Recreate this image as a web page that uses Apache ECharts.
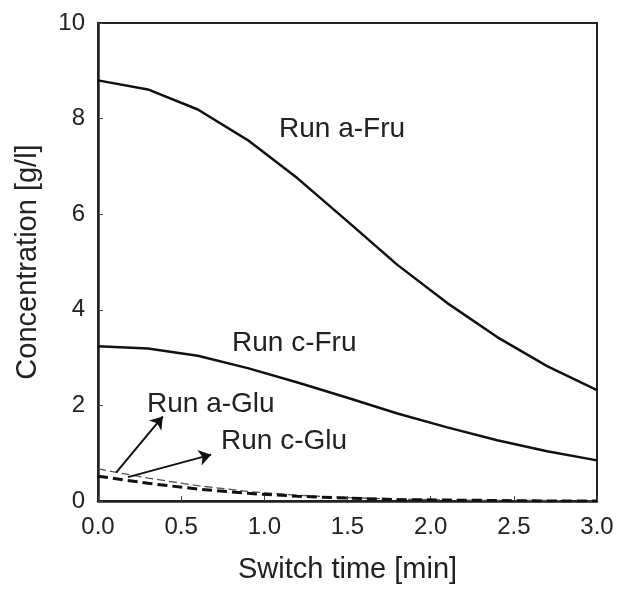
<!DOCTYPE html>
<html>
<head>
<meta charset="utf-8">
<script src="https://cdn.jsdelivr.net/npm/echarts@6/dist/echarts.min.js"></script>
<style>
  html, body { margin: 0; padding: 0; background: #fff; }
  #chart { width: 617px; height: 589px; }
</style>
</head>
<body>
<div id="chart"></div>
<script>
// switch time [min]
let times = [0, 0.3, 0.6, 0.9, 1.2, 1.5, 1.8, 2.1, 2.4, 2.7, 3.0]
// concentrations [g/l]
let runAFru = [8.80, 8.61, 8.19, 7.55, 6.75, 5.85, 4.94, 4.14, 3.43, 2.82, 2.32]
let runCFru = [3.24, 3.19, 3.04, 2.78, 2.48, 2.16, 1.83, 1.54, 1.27, 1.04, 0.85]
let runAGlu = [0.67, 0.48, 0.32, 0.20, 0.12, 0.07, 0.04, 0.02, 0.01, 0.01, 0.00]
let runCGlu = [0.52, 0.37, 0.25, 0.16, 0.10, 0.06, 0.03, 0.02, 0.01, 0.00, 0.00]

function pairs(ys) {
  let out = []
  for (let i = 0; i < times.length; i++) {
    out.push([times[i], ys[i]])
  }
  return out
}

let myChart = echarts.init(document.getElementById("chart"))
let font = "Liberation Sans, Arial, sans-serif"

let option = {
  animation: false,
  textStyle: { fontFamily: font, color: "#222" },
  grid: {
    left: 98,
    right: 20,
    top: 23,
    bottom: 85,
    show: true,
    borderColor: "#222",
    borderWidth: 2
  },
  xAxis: {
    type: "value",
    min: 0,
    max: 3,
    interval: 0.5,
    name: "Switch time [min]",
    nameLocation: "middle",
    nameGap: 54,
    nameTextStyle: { fontSize: 29, color: "#222", fontFamily: font },
    axisLine: { lineStyle: { color: "#222", width: 2.5 } },
    axisTick: { inside: true, length: 5, lineStyle: { color: "#444" } },
    axisLabel: {
      fontSize: 24,
      color: "#222",
      margin: 14,
      formatter: function (v) { return v.toFixed(1) }
    },
    splitLine: { show: false }
  },
  yAxis: {
    type: "value",
    min: 0,
    max: 10,
    interval: 2,
    name: "Concentration [g/l]",
    nameLocation: "middle",
    nameGap: 56,
    nameTextStyle: { fontSize: 29, color: "#222", fontFamily: font },
    axisLine: { lineStyle: { color: "#222", width: 2.5 } },
    axisTick: { inside: true, length: 5, lineStyle: { color: "#444" } },
    axisLabel: { fontSize: 24, color: "#222", margin: 13 },
    splitLine: { show: false }
  },
  series: [
    {
      name: "Run a-Fru",
      type: "line",
      data: pairs(runAFru),
      showSymbol: false,
      lineStyle: { color: "#111", width: 2.5 }
    },
    {
      name: "Run c-Fru",
      type: "line",
      data: pairs(runCFru),
      showSymbol: false,
      lineStyle: { color: "#111", width: 2.5 }
    },
    {
      name: "Run a-Glu",
      type: "line",
      data: pairs(runAGlu),
      showSymbol: false,
      lineStyle: { color: "#555", width: 1.3, type: [8, 4] },
      markLine: {
        silent: true,
        symbol: ["none", "arrow"],
        symbolSize: 12,
        label: { show: false },
        lineStyle: { color: "#111", width: 2, type: "solid" },
        data: [
          [{ coord: [0.11, 0.60] }, { coord: [0.39, 1.77] }],
          [{ coord: [0.18, 0.50] }, { coord: [0.68, 0.97] }]
        ]
      }
    },
    {
      name: "Run c-Glu",
      type: "line",
      data: pairs(runCGlu),
      showSymbol: false,
      lineStyle: { color: "#111", width: 3, type: [10, 5] }
    }
  ],
  graphic: [
    { type: "text", left: 279, top: 115, style: { text: "Run a-Fru", fontSize: 28, fontFamily: font, fill: "#222" } },
    { type: "text", left: 232, top: 329, style: { text: "Run c-Fru", fontSize: 28, fontFamily: font, fill: "#222" } },
    { type: "text", left: 147, top: 390, style: { text: "Run a-Glu", fontSize: 28, fontFamily: font, fill: "#222" } },
    { type: "text", left: 221, top: 427, style: { text: "Run c-Glu", fontSize: 28, fontFamily: font, fill: "#222" } }
  ]
}
myChart.setOption(option)
</script>
</body>
</html>
